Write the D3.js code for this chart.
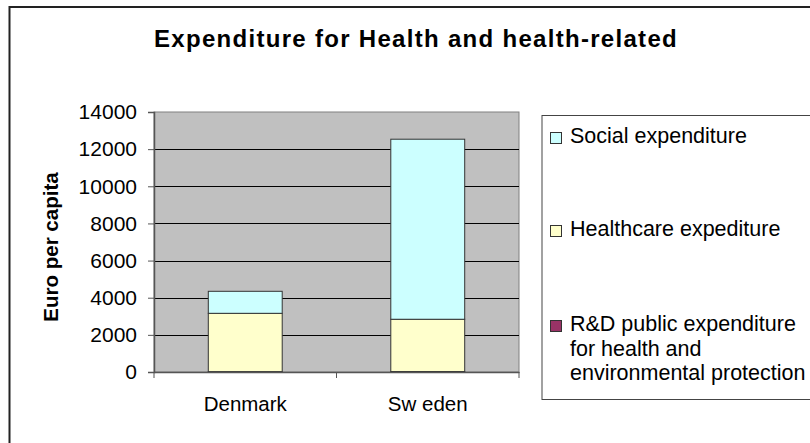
<!DOCTYPE html>
<html><head><meta charset="utf-8">
<script src="https://cdn.jsdelivr.net/npm/d3@7"></script>
<style>body{margin:0;background:#fff}svg{display:block;font-family:Arial,"Liberation Sans",sans-serif}</style>
</head><body>
<svg id="c" width="810" height="443"></svg>
<script>
const categories = ["Denmark", "Sw eden"];
const rdValues = [20, 25];
const healthcareValues = [3140, 2815];
const socialValues = [1185, 9695];
const yTicks = [0, 2000, 4000, 6000, 8000, 10000, 12000, 14000];
const seriesNames = ["R&D public expenditure for health and environmental protection", "Healthcare expediture", "Social expenditure"];
const seriesColors = ["#993366", "#FFFFCC", "#CCFFFF"];

const svg = d3.select("#c");
const FONT = "Arial, 'Liberation Sans', sans-serif";
// outer chart border
svg.append("rect").attr("x", 9.5).attr("y", 7).attr("width", 830).attr("height", 460)
  .attr("fill", "#fff").attr("stroke", "#222").attr("stroke-width", 2);

const m = {l: 154, r: 519, t: 112, b: 372};
const x = d3.scaleBand().domain(categories).range([m.l, m.r]).paddingInner(0.595).paddingOuter(0.2975);
const xs = d3.scaleBand().domain(categories).range([m.l, m.r]);
const y = d3.scaleLinear().domain([0, 14000]).range([m.b, m.t]);

svg.append("rect").attr("x", m.l).attr("y", m.t).attr("width", m.r - m.l).attr("height", m.b - m.t)
  .attr("fill", "#C0C0C0").attr("stroke", "#808080").attr("stroke-width", 1);

// gridlines
svg.append("g").selectAll("line").data(yTicks.filter(d => d > 0 && d < 14000)).join("line")
  .attr("x1", m.l).attr("x2", m.r).attr("y1", d => Math.round(y(d)) + 0.5).attr("y2", d => Math.round(y(d)) + 0.5)
  .attr("stroke", "#000").attr("stroke-width", 1);

// stacked bars
const rows = categories.map((c, i) => ({cat: c, rd: rdValues[i], hc: healthcareValues[i], so: socialValues[i]}));
const stack = d3.stack().keys(["rd", "hc", "so"])(rows);
svg.append("g").selectAll("g").data(stack).join("g")
  .attr("fill", (d, i) => seriesColors[i])
  .selectAll("rect").data(d => d).join("rect")
  .attr("x", d => x(d.data.cat)).attr("width", x.bandwidth())
  .attr("y", d => y(d[1])).attr("height", d => y(d[0]) - y(d[1]))
  .attr("stroke", "#333").attr("stroke-width", 1);

// y axis
const ya = svg.append("g").attr("transform", `translate(${m.l},0)`)
  .call(d3.axisLeft(y).tickValues(yTicks).tickSize(6).tickPadding(11).tickFormat(d3.format("d")));
ya.select(".domain").attr("stroke", "#555").attr("stroke-width", 1.5);
ya.selectAll(".tick line").attr("stroke", "#555");
ya.selectAll("text").attr("font-size", 21).attr("fill", "#000").attr("font-family", FONT);

// x axis
const xa = svg.append("g").attr("transform", `translate(0,${m.b})`)
  .call(d3.axisBottom(xs).tickSize(0).tickPadding(24));
xa.select(".domain").attr("stroke", "#555").attr("stroke-width", 1.5);
xa.selectAll("text").attr("font-size", 20.5).attr("fill", "#000").attr("font-family", FONT);
// category boundary ticks
svg.append("g").selectAll("line").data([m.l, (m.l + m.r) / 2, m.r]).join("line")
  .attr("x1", d => d).attr("x2", d => d).attr("y1", m.b).attr("y2", m.b + 6).attr("stroke", "#555");

// title
svg.append("text").attr("x", 416).attr("y", 47).attr("text-anchor", "middle")
  .attr("font-size", 24).attr("font-weight", "bold").attr("letter-spacing", 1.3)
  .text("Expenditure for Health and health-related");

// y title
svg.append("text").attr("transform", `translate(58,${(m.t + m.b) / 2 + 5}) rotate(-90)`).attr("text-anchor", "middle")
  .attr("font-size", 20.5).attr("font-weight", "bold").text("Euro per capita");

// legend
svg.append("rect").attr("x", 542).attr("y", 115.5).attr("width", 300).attr("height", 284)
  .attr("fill", "#fff").attr("stroke", "#444").attr("stroke-width", 1);
const legendItems = [
  {i: 2, lines: ["Social expenditure"], base: 143},
  {i: 1, lines: ["Healthcare expediture"], base: 236},
  {i: 0, lines: ["R&D public expenditure", "for health and", "environmental protection"], base: 331}
];
const lg = svg.append("g");
legendItems.forEach(it => {
  lg.append("rect").attr("x", 550.5).attr("y", it.base - 10.5).attr("width", 11).attr("height", 11)
    .attr("fill", seriesColors[it.i]).attr("stroke", "#333").attr("stroke-width", 1);
  const t = lg.append("text").attr("x", 570).attr("y", it.base).attr("font-size", 21.5);
  it.lines.forEach((l, k) => t.append("tspan").attr("x", 570).attr("dy", k === 0 ? 0 : 24.5).text(l));
});
</script>
</body></html>
